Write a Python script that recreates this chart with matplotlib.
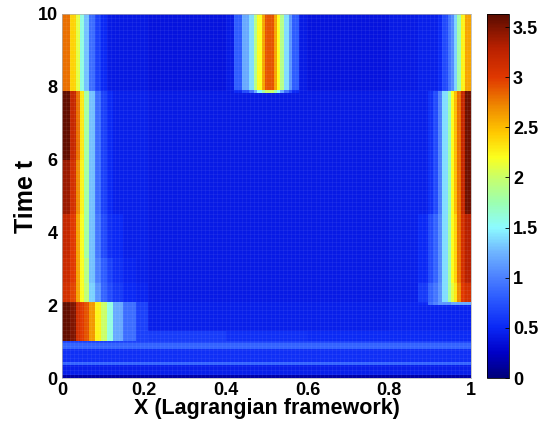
import numpy as np
import matplotlib.pyplot as plt
from matplotlib.colors import LinearSegmentedColormap

# background density (coarse cells)
bg_x = [0.0, 0.2, 0.4, 0.6, 0.8, 1.0]
bg_t = [0.0, 0.07, 0.36, 0.45, 0.79, 0.95, 1.03, 1.3, 2.1, 7.88, 10.0]
bg_u = [
    [0.15, 0.15, 0.15, 0.15, 0.15],
    [0.45, 0.45, 0.45, 0.45, 0.45],
    [0.85, 0.85, 0.85, 0.85, 0.85],
    [0.55, 0.55, 0.55, 0.55, 0.55],
    [0.85, 0.85, 0.85, 0.85, 0.85],
    [0.65, 0.65, 0.65, 0.65, 0.65],
    [0.55, 0.62, 0.55, 0.52, 0.52],
    [0.48, 0.45, 0.45, 0.45, 0.47],
    [0.45, 0.42, 0.42, 0.42, 0.45],
    [0.42, 0.38, 0.42, 0.38, 0.42],
]

# left boundary layer
left_x = [0.0, 0.02, 0.035, 0.045, 0.055, 0.065, 0.08, 0.095, 0.11, 0.125, 0.15, 0.18, 0.21]
left_t = [1.03, 2.1, 2.6, 3.3, 4.5, 6.0, 7.88, 10.0]
left_u = [
    [3.6, 3.5, 3.1, 3.0, 2.9, 2.65, 2.25, 2.0, 1.6, 1.2, 0.9, 0.65],
    [3.1, 2.95, 2.6, 2.2, 1.95, 1.35, 1.1, 0.85, 0.7, 0.6, 0.5, 0.48],
    [3.15, 3.0, 2.6, 2.2, 1.9, 1.3, 1.0, 0.8, 0.65, 0.55, 0.48, 0.45],
    [3.2, 3.0, 2.6, 2.2, 1.8, 1.3, 0.95, 0.7, 0.55, 0.5, 0.45, 0.45],
    [3.4, 3.1, 2.7, 2.25, 1.8, 1.3, 0.9, 0.65, 0.5, 0.45, 0.45, 0.45],
    [3.6, 3.2, 2.8, 2.3, 1.8, 1.3, 0.9, 0.65, 0.5, 0.45, 0.45, 0.45],
    [2.8, 2.4, 2.1, 1.6, 1.3, 0.9, 0.65, 0.5, 0.42, 0.4, 0.4, 0.4],
]

# pulse in the middle of the domain
mid_x = [0.42, 0.44, 0.457, 0.469, 0.477, 0.489, 0.497, 0.518, 0.526, 0.534, 0.542, 0.554, 0.563, 0.58]
mid_t = [7.82, 7.9, 10.0]
mid_u = [
    [0.5, 0.7, 0.9, 1.2, 1.5, 1.8, 2.0, 1.8, 1.5, 1.2, 0.9, 0.7, 0.5],
    [0.8, 1.2, 1.4, 1.9, 2.2, 2.6, 2.9, 2.6, 2.2, 1.9, 1.4, 1.1, 0.8],
]

# right boundary layer
right_x = [0.87, 0.895, 0.907, 0.92, 0.93, 0.944, 0.95, 0.958, 0.966, 0.976, 0.985, 1.0]
right_t = [2.0, 2.1, 2.6, 4.5, 7.88, 10.0]
right_u = [
    [0.5, 0.9, 1.0, 1.1, 1.1, 1.1, 1.2, 1.2, 1.2, 1.2, 1.2],
    [0.6, 0.85, 0.95, 1.1, 1.4, 1.8, 2.1, 2.3, 2.7, 3.0, 3.1],
    [0.5, 0.7, 0.85, 1.05, 1.4, 1.8, 2.2, 2.4, 2.8, 3.1, 3.3],
    [0.45, 0.55, 0.7, 1.0, 1.4, 1.75, 2.2, 2.5, 2.8, 3.2, 3.55],
    [0.45, 0.45, 0.45, 0.5, 0.7, 0.95, 1.05, 1.35, 1.8, 2.25, 2.6],
]

x_ticks = [0, 0.2, 0.4, 0.6, 0.8, 1]
x_labels = ['0', '0.2', '0.4', '0.6', '0.8', '1']
t_ticks = [0, 2, 4, 6, 8, 10]
cb_ticks = [0, 0.5, 1, 1.5, 2, 2.5, 3, 3.5]
cb_labels = ['0', '0.5', '1', '1.5', '2', '2.5', '3', '3.5']

vmin, vmax = 0, 3.63

# jet-like map, a bit washed out in the light blues
stops = [
    (0.00, '#00007a'), (0.25, '#0000c8'), (0.50, '#0a28f5'),
    (0.80, '#2d5cff'), (1.00, '#4c80ff'), (1.25, '#6fb4ff'),
    (1.50, '#8cfbff'), (1.75, '#9cffb0'), (2.00, '#c8ff6a'),
    (2.20, '#fbff1e'), (2.45, '#ffc800'), (2.70, '#f08c00'),
    (3.00, '#e03800'), (3.30, '#b82000'), (3.63, '#5a0c00'),
]
cmap = LinearSegmentedColormap.from_list('washed_jet', [(v / vmax, c) for v, c in stops])

plt.rcParams['font.family'] = ['Liberation Sans', 'DejaVu Sans']
plt.rcParams['font.weight'] = 'bold'

fig = plt.figure(figsize=(5.41, 4.28), dpi=100, facecolor='white')
ax = fig.add_axes([0.1146, 0.1168, 0.756, 0.8505])
cax = fig.add_axes([0.900, 0.1168, 0.0407, 0.8505])

kw = dict(cmap=cmap, vmin=vmin, vmax=vmax, shading='flat', antialiased=False, rasterized=True)
mesh = ax.pcolormesh(bg_x, bg_t, np.array(bg_u), **kw)
ax.pcolormesh(left_x, left_t, np.array(left_u), **kw)
ax.pcolormesh(mid_x, mid_t, np.array(mid_u), **kw)
ax.pcolormesh(right_x, right_t, np.array(right_u), **kw)

# faint surface mesh lines
for xv in np.arange(0.01, 1.0, 0.01):
    ax.axvline(xv, color='white', lw=0.4, alpha=0.1)
for tv in np.arange(0.11, 10.0, 0.11):
    ax.axhline(tv, color='white', lw=0.4, alpha=0.1)

ax.set_xlim(0, 1)
ax.set_ylim(0, 10)
ax.set_xticks(x_ticks)
ax.set_xticklabels(x_labels)
ax.set_yticks(t_ticks)
ax.tick_params(labelsize=13, length=0, pad=3)
for s in ax.spines.values():
    s.set_color('#b0b0b0')
    s.set_linewidth(0.5)
ax.set_xlabel('X (Lagrangian framework)', fontsize=15.5, fontweight='bold', labelpad=-1)
ax.set_ylabel('Time t', fontsize=18, fontweight='bold', labelpad=0)

cb = fig.colorbar(mesh, cax=cax)
cb.set_ticks(cb_ticks)
cb.set_ticklabels(cb_labels)
cb.outline.set_linewidth(0.6)
cax.tick_params(labelsize=13, direction='in', length=3, width=0.6, pad=3)
cax.tick_params(which='minor', length=0)

fig.savefig('out.png', dpi=100)
